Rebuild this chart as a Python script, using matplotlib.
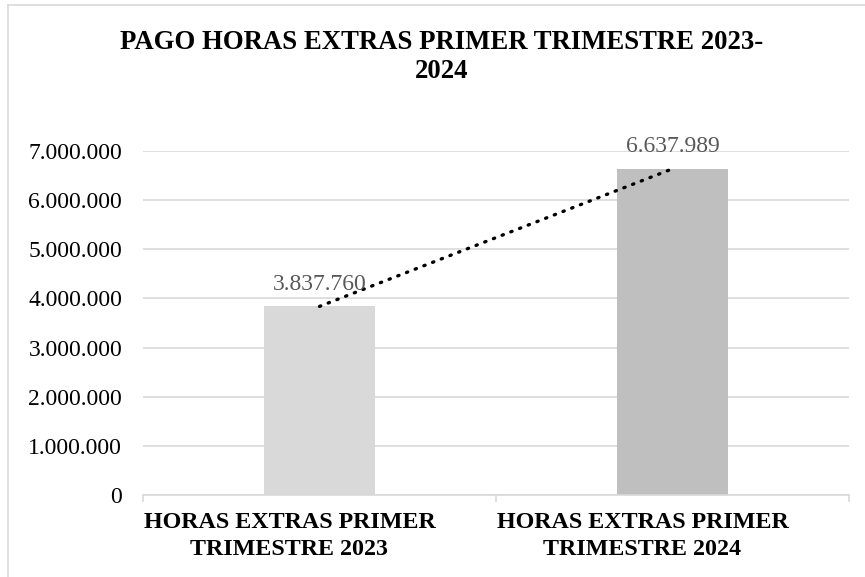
import matplotlib
matplotlib.use("Agg")
import matplotlib.pyplot as plt
import numpy as np
from matplotlib.lines import Line2D
from matplotlib.transforms import ScaledTranslation

plt.rcParams['font.family'] = ['Liberation Serif', 'DejaVu Serif']

categories = ["HORAS EXTRAS PRIMER\nTRIMESTRE 2023", "HORAS EXTRAS PRIMER\nTRIMESTRE 2024"]
values = [3837760, 6637989]
bar_colors = ["#D9D9D9", "#BFBFBF"]
yticks = [0, 1000000, 2000000, 3000000, 4000000, 5000000, 6000000, 7000000]
title = "PAGO HORAS EXTRAS PRIMER TRIMESTRE 2023-\n2024"

def fmt(v):
    return f"{int(v):,}".replace(",", ".")

W, H = 865, 577
fig = plt.figure(figsize=(W/100, H/100), dpi=100)
ax = fig.add_axes([143/W, 1-495/H, (849-143)/W, (495-151)/H])

x = np.arange(len(categories))
ax.bar(x, values, width=0.314, color=bar_colors, zorder=2)

for xi, v in zip(x, values):
    ax.annotate(fmt(v), (xi, v), xytext=(0, 12), textcoords='offset points',
                ha='center', va='baseline', fontsize=17, color='#595959', zorder=4)

# linear trendline
coef = np.polyfit(x, values, 1)
tx = np.array([x[0], x[-1]])
ax.plot(tx, np.polyval(coef, tx), color='black', linewidth=2.4,
        linestyle=(0, (0.4, 2.4)), dash_capstyle='round', zorder=3)

ax.set_xlim(-0.5, len(categories) - 0.5)
ax.set_ylim(0, 7000000)
ax.set_yticks(yticks)
ax.set_yticklabels([fmt(t) for t in yticks], fontsize=17)
ax.yaxis.grid(True, color='#D9D9D9', linewidth=1.2, zorder=0)
ax.set_axisbelow(True)
ax.tick_params(axis='y', length=0, pad=15, labelcolor='black')

ax.set_xticks(x)
ax.set_xticklabels(categories, fontsize=17.3, fontweight='bold', linespacing=1.42)
ax.tick_params(axis='x', length=0, pad=12)
shift = ScaledTranslation(-30/100, 0, fig.dpi_scale_trans)
for lab in ax.get_xticklabels():
    lab.set_transform(lab.get_transform() + shift)
# boundary tick marks
ax.set_xticks([-0.5, 0.5, 1.5], minor=True)
ax.tick_params(axis='x', which='minor', length=5, color='#D9D9D9', width=1.2)

for s in ['top', 'right', 'left']:
    ax.spines[s].set_visible(False)
ax.spines['bottom'].set_color('#D9D9D9')
ax.spines['bottom'].set_linewidth(1.2)

fig.text(442/W, 1-57/H, title, ha='center', va='center', fontsize=19.3,
         fontweight='bold', linespacing=1.25)

# chart border (left and top)
fig.add_artist(Line2D([8/W, 8/W], [0, 1-5/H], transform=fig.transFigure,
                      color='#D9D9D9', linewidth=1.2))
fig.add_artist(Line2D([8/W, 1], [1-5/H, 1-5/H], transform=fig.transFigure,
                      color='#D9D9D9', linewidth=1.2))

fig.savefig("out.png", dpi=100)
